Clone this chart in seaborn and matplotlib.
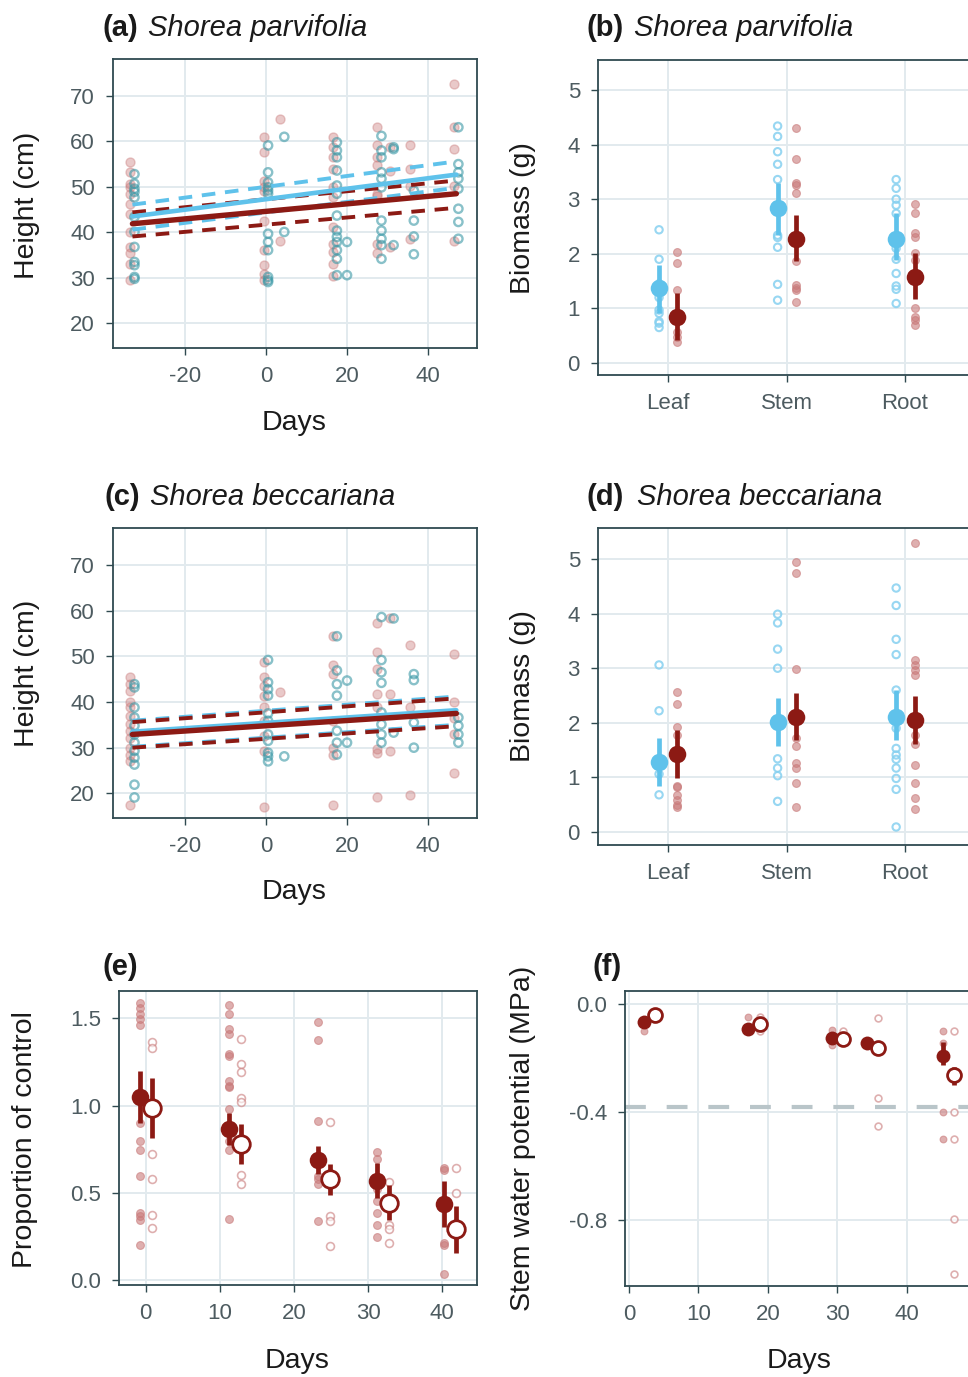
import matplotlib
matplotlib.use("Agg")
import matplotlib.pyplot as plt
import seaborn as sns
import pandas as pd

# colours
RED = "#8C1A14"
BLUE = "#5FC2EB"
RED_PT = "#c97a7a"
TEAL_PT = "#3a98a6"
BLUE_PT = "#86d0f0"
FRAME = "#2f4a50"
GRID = "#e2eaee"
TICK = "#4d5b60"

# ---- (a) Shorea parvifolia, height ----
a_days = [-33, 0, 4, 17, 19.5, 28, 31, 36, 47]
a_ctrl = [[52.8, 50.7, 49.6, 48.9, 47.7, 43.4, 40.1, 36.8, 33.5, 32.8, 30.2, 29.8],
          [59.1, 53.2, 51.0, 49.9, 49.2, 48.5, 39.7, 37.9, 36.1, 30.2, 29.5, 29.1],
          [61.0, 40.1],
          [59.8, 58.0, 56.5, 53.6, 50.3, 48.5, 43.7, 40.4, 39.0, 37.9, 36.1, 34.2, 30.6],
          [37.9, 30.6],
          [61.2, 58.0, 56.5, 53.2, 51.8, 49.9, 42.6, 40.4, 38.6, 37.2, 34.2],
          [58.7, 58.3, 37.2],
          [49.2, 42.6, 39.1, 35.2],
          [63.1, 55.0, 53.2, 51.8, 49.6, 45.2, 42.3, 38.6]]
a_drt = [[55.4, 53.2, 50.7, 49.9, 48.5, 46.3, 44.1, 40.1, 36.8, 35.4, 33.1, 29.5],
         [61.0, 57.6, 51.4, 49.9, 49.2, 42.6, 36.1, 32.8, 30.9, 29.5],
         [64.9, 38.2],
         [61.0, 58.7, 56.5, 53.9, 49.9, 47.7, 41.2, 37.5, 35.7, 33.1, 30.4],
         [],
         [63.2, 59.1, 56.5, 54.7, 48.5, 48.1, 37.5, 35.4],
         [58.7, 53.6, 36.8],
         [59.1, 53.9, 50.3, 38.6],
         [72.7, 63.1, 58.3, 50.3, 38.2]]
fit_x = [-33, 47]
a_ctrl_fit = [43.5, 52.7]
a_ctrl_up = [46.1, 55.6]
a_ctrl_lo = [40.6, 49.8]
a_drt_fit = [41.9, 48.5]
a_drt_up = [44.4, 51.4]
a_drt_lo = [39.1, 45.4]

# ---- (c) Shorea beccariana, height ----
c_ctrl = [[43.9, 43.2, 38.8, 36.6, 34.8, 32.9, 31.1, 29.3, 27.8, 26.3, 21.9, 19.1],
          [49.2, 44.3, 42.8, 41.4, 37.5, 35.9, 32.9, 31.5, 28.9, 28.1, 27.0],
          [28.1],
          [54.4, 46.9, 43.9, 41.4, 33.7, 31.1, 28.5],
          [44.7, 31.1],
          [58.6, 49.2, 46.5, 44.2, 37.7, 35.1, 32.9, 31.1],
          [58.3, 33.3],
          [46.1, 44.8, 35.5, 30.0],
          [36.6, 34.8, 32.9, 31.1]]
c_drt = [[45.4, 43.9, 42.5, 39.9, 38.8, 37.0, 35.1, 33.7, 32.2, 30.0, 28.5, 27.0, 17.5],
         [48.7, 45.4, 43.6, 41.4, 38.8, 35.9, 32.6, 29.3, 17.1],
         [42.1],
         [54.4, 48.0, 46.1, 35.9, 30.0, 28.5, 17.5],
         [],
         [57.3, 50.9, 47.2, 41.7, 38.8, 29.6, 28.9, 19.1],
         [58.3, 41.7, 29.3],
         [52.4, 38.8, 19.7],
         [50.5, 39.9, 36.6, 32.9, 24.5]]
c_ctrl_fit = [33.5, 38.2]
c_ctrl_up = [35.9, 41.2]
c_ctrl_lo = [30.2, 35.0]
c_drt_fit = [32.9, 37.5]
c_drt_up = [35.6, 40.8]
c_drt_lo = [30.0, 34.7]

# ---- (b)/(d) biomass ----
organs = ["Leaf", "Stem", "Root"]
b_ctrl_raw = [[2.44, 1.90, 1.45, 1.20, 0.97, 0.91, 0.76, 0.73, 0.65],
              [4.34, 4.15, 3.87, 3.64, 3.36, 2.34, 2.30, 2.12, 1.44, 1.15],
              [3.36, 3.20, 3.00, 2.89, 2.74, 2.10, 1.90, 1.64, 1.41, 1.35, 1.09]]
b_ctrl_mean = [1.37, 2.83, 2.28]
b_ctrl_lo = [0.92, 2.34, 1.89]
b_ctrl_hi = [1.79, 3.29, 2.74]
b_drt_raw = [[2.04, 1.83, 1.33, 0.57, 0.48, 0.39],
             [4.31, 3.73, 3.30, 3.26, 3.12, 1.87, 1.43, 1.38, 1.34, 1.12],
             [2.92, 2.74, 2.39, 2.30, 2.01, 1.89, 1.00, 0.85, 0.79, 0.70]]
b_drt_mean = [0.85, 2.28, 1.58]
b_drt_lo = [0.42, 1.86, 1.18]
b_drt_hi = [1.28, 2.71, 2.01]

d_ctrl_raw = [[3.06, 2.22, 1.06, 0.68],
              [3.99, 3.83, 3.35, 3.00, 1.34, 1.17, 1.03, 0.56],
              [4.47, 4.15, 3.53, 3.25, 2.60, 1.90, 1.53, 1.41, 1.33, 1.17, 0.98, 0.78, 0.09]]
d_ctrl_mean = [1.28, 2.02, 2.11]
d_ctrl_lo = [0.84, 1.58, 1.68]
d_ctrl_hi = [1.73, 2.45, 2.60]
d_drt_raw = [[2.56, 2.34, 1.92, 1.78, 0.85, 0.83, 0.68, 0.59, 0.49, 0.45],
             [4.95, 4.74, 2.99, 1.73, 1.58, 1.26, 1.17, 0.89, 0.45],
             [5.29, 3.15, 3.06, 2.97, 2.88, 1.78, 1.61, 1.23, 0.89, 0.62, 0.42]]
d_drt_mean = [1.43, 2.11, 2.05]
d_drt_lo = [0.98, 1.68, 1.62]
d_drt_hi = [1.86, 2.54, 2.50]

# ---- (e) proportion of control ----
e_days = [0, 12, 24, 32, 41]
e_drt_raw = [[1.59, 1.557, 1.527, 1.494, 1.462, 0.90, 0.795, 0.743, 0.594, 0.383, 0.364, 0.341, 0.201],
             [1.576, 1.527, 1.437, 1.408, 1.297, 1.287, 1.140, 1.115, 1.107, 0.981, 0.795, 0.747, 0.349],
             [1.479, 1.376, 0.910, 0.594, 0.579, 0.550, 0.339],
             [0.734, 0.695, 0.521, 0.454, 0.383, 0.316, 0.245],
             [0.642, 0.632, 0.214, 0.201, 0.034]]
e_drt_mean = [1.05, 0.868, 0.69, 0.569, 0.435]
e_drt_lo = [0.90, 0.776, 0.607, 0.47, 0.306]
e_drt_hi = [1.197, 0.96, 0.77, 0.67, 0.569]
e_rew_raw = [[1.366, 1.328, 0.724, 0.580, 0.370, 0.297],
             [1.379, 1.236, 1.194, 1.044, 1.019, 0.603, 0.550],
             [0.906, 0.364, 0.339, 0.197],
             [0.559, 0.316, 0.291, 0.211],
             [0.642, 0.498]]
e_rew_mean = [0.987, 0.782, 0.579, 0.444, 0.291]
e_rew_lo = [0.814, 0.667, 0.489, 0.341, 0.153]
e_rew_hi = [1.159, 0.897, 0.667, 0.546, 0.425]

# ---- (f) stem water potential ----
f_days = [3, 18, 30, 35, 46]
f_drt_raw = [[-0.06, -0.10], [-0.047, -0.09], [-0.096, -0.152, -0.12], [-0.14],
             [-0.099, -0.145, -0.399, -0.50]]
f_drt_mean = [-0.065, -0.094, -0.127, -0.143, -0.191]
f_drt_lo = [-0.09, -0.105, -0.15, -0.155, -0.226]
f_drt_hi = [-0.045, -0.08, -0.105, -0.13, -0.140]
f_rew_raw = [[-0.035], [-0.047, -0.10], [-0.099, -0.14], [-0.051, -0.349, -0.45],
             [-0.099, -0.399, -0.50, -0.797, -1.0]]
f_rew_mean = [-0.041, -0.075, -0.131, -0.164, -0.263]
f_rew_lo = [-0.05, -0.09, -0.14, -0.175, -0.300]
f_rew_hi = [-0.033, -0.065, -0.12, -0.15, -0.234]
threshold = -0.38

sns.set_theme(style="whitegrid")
plt.rcParams["font.family"] = ["Liberation Sans", "DejaVu Sans"]
plt.rcParams["axes.unicode_minus"] = False

W, H = 968, 1377
fig = plt.figure(figsize=(W / 100, H / 100), dpi=100)


def px_axes(l, t, r, b):
    return fig.add_axes([l / W, 1 - b / H, (r - l) / W, (b - t) / H])


def long_df(xs, groups):
    rows = []
    for x, vals in zip(xs, groups):
        for v in vals:
            rows.append((x, v))
    return pd.DataFrame(rows, columns=["x", "y"])


def style(ax):
    ax.grid(True, color=GRID, lw=1.4)
    for s in ax.spines.values():
        s.set_color(FRAME)
        s.set_linewidth(1.3)
    ax.tick_params(axis="both", length=5, width=1, color=FRAME, labelcolor=TICK,
                   labelsize=16, bottom=True, left=True)
    ax.tick_params(axis="y", pad=8)
    ax.tick_params(axis="x", pad=8)
    ax.set_xlabel("")
    ax.set_ylabel("")


def height_panel(ax, ctrl, drt, fits):
    dd = long_df([d - 0.5 for d in a_days], drt)
    dc = long_df([d + 0.5 for d in a_days], ctrl)
    sns.scatterplot(data=dd, x="x", y="y", ax=ax, color=RED_PT, alpha=0.4,
                    s=42, edgecolor=RED_PT, linewidth=1, zorder=2)
    sns.scatterplot(data=dc, x="x", y="y", ax=ax, facecolor="none",
                    edgecolor=TEAL_PT, alpha=0.6, s=36, linewidth=1.7, zorder=3)
    c_fit, c_up, c_lo, d_fit, d_up, d_lo = fits
    for yv, col, lw, ls in [(c_up, BLUE, 2.8, "--"), (c_lo, BLUE, 2.8, "--"),
                            (d_up, RED, 2.8, "--"), (d_lo, RED, 2.8, "--"),
                            (c_fit, BLUE, 3.3, "-"), (d_fit, RED, 3.9, "-")]:
        line = pd.DataFrame({"x": fit_x, "y": yv})
        sns.lineplot(data=line, x="x", y="y", ax=ax, color=col, lw=lw,
                     linestyle=ls, zorder=4)
    for l in ax.lines:
        if l.get_linestyle() == "--":
            l.set_dashes((3.5, 2.5))
    ax.set_xlim(-37.8, 52.1)
    ax.set_ylim(14.6, 78.1)
    ax.set_xticks([-20, 0, 20, 40])
    ax.set_yticks([20, 30, 40, 50, 60, 70])
    style(ax)


def biomass_panel(ax, c_raw, c_mean, c_lo, c_hi, d_raw, d_mean, d_lo, d_hi):
    pos = range(len(organs))
    pc = [p - 0.075 for p in pos]
    pd_ = [p + 0.08 for p in pos]
    sns.scatterplot(data=long_df(pc, c_raw), x="x", y="y", ax=ax, facecolor="none",
                    edgecolor=BLUE_PT, alpha=0.85, s=28, linewidth=1.5, zorder=2)
    sns.scatterplot(data=long_df(pd_, d_raw), x="x", y="y", ax=ax, color=RED_PT,
                    alpha=0.6, s=32, edgecolor=RED_PT, linewidth=0.8, zorder=2)
    ax.vlines(pc, c_lo, c_hi, color=BLUE, lw=3.4, zorder=3)
    ax.vlines(pd_, d_lo, d_hi, color=RED, lw=3.4, zorder=3)
    sns.scatterplot(x=pc, y=c_mean, ax=ax, color=BLUE, s=160, edgecolor=BLUE,
                    linewidth=0, zorder=4)
    sns.scatterplot(x=pd_, y=d_mean, ax=ax, color=RED, s=160, edgecolor=RED,
                    linewidth=0, zorder=4)
    ax.set_xlim(-0.59, 2.59)
    ax.set_xticks(list(pos))
    ax.set_xticklabels(organs)
    ax.set_yticks([0, 1, 2, 3, 4, 5])
    style(ax)


def time_panel(ax, days, dodge, dr, dm, dl, dh, rr, rm, rl, rh, msize, rsize):
    xd = [d - dodge for d in days]
    xr = [d + dodge for d in days]
    sns.scatterplot(data=long_df(xd, dr), x="x", y="y", ax=ax, color=RED_PT,
                    alpha=0.6, s=rsize, edgecolor=RED_PT, linewidth=0.8, zorder=2)
    sns.scatterplot(data=long_df(xr, rr), x="x", y="y", ax=ax, facecolor="white",
                    edgecolor=RED_PT, alpha=0.6, s=rsize, linewidth=1.2, zorder=2)
    ax.vlines(xd, dl, dh, color=RED, lw=3.4, zorder=3)
    ax.vlines(xr, rl, rh, color=RED, lw=3.4, zorder=3)
    sns.scatterplot(x=xd, y=dm, ax=ax, color=RED, s=msize, edgecolor=RED,
                    linewidth=0, zorder=4)
    sns.scatterplot(x=xr, y=rm, ax=ax, facecolor="white", edgecolor=RED,
                    s=msize, linewidth=2, zorder=4)


# (a)
ax_a = px_axes(113, 59, 477, 348)
height_panel(ax_a, a_ctrl, a_drt,
             (a_ctrl_fit, a_ctrl_up, a_ctrl_lo, a_drt_fit, a_drt_up, a_drt_lo))

# (c)
ax_c = px_axes(113, 528, 477, 818)
height_panel(ax_c, c_ctrl, c_drt,
             (c_ctrl_fit, c_ctrl_up, c_ctrl_lo, c_drt_fit, c_drt_up, c_drt_lo))

# (b)
ax_b = px_axes(598, 60, 975, 375)
biomass_panel(ax_b, b_ctrl_raw, b_ctrl_mean, b_ctrl_lo, b_ctrl_hi,
              b_drt_raw, b_drt_mean, b_drt_lo, b_drt_hi)
ax_b.set_ylim(-0.22, 5.55)

# (d)
ax_d = px_axes(598, 528, 975, 845)
biomass_panel(ax_d, d_ctrl_raw, d_ctrl_mean, d_ctrl_lo, d_ctrl_hi,
              d_drt_raw, d_drt_mean, d_drt_lo, d_drt_hi)
ax_d.set_ylim(-0.24, 5.57)

# (e)
ax_e = px_axes(119, 991, 477, 1285)
time_panel(ax_e, e_days, 0.8, e_drt_raw, e_drt_mean, e_drt_lo, e_drt_hi,
           e_rew_raw, e_rew_mean, e_rew_lo, e_rew_hi, 160, 32)
ax_e.set_xlim(-3.6, 44.7)
ax_e.set_ylim(-0.029, 1.657)
ax_e.set_xticks([0, 10, 20, 30, 40])
ax_e.set_yticks([0.0, 0.5, 1.0, 1.5])
ax_e.set_yticklabels(["0.0", "0.5", "1.0", "1.5"])
style(ax_e)

# (f)
ax_f = px_axes(625, 991, 977, 1286)
ax_f.axhline(threshold, color="#b9c5c9", lw=3, dashes=(5, 5), zorder=1)
time_panel(ax_f, f_days, 0.8, f_drt_raw, f_drt_mean, f_drt_lo, f_drt_hi,
           f_rew_raw, f_rew_mean, f_rew_lo, f_rew_hi, 100, 24)
ax_f.set_xlim(-0.58, 50.1)
ax_f.set_ylim(-1.044, 0.048)
ax_f.set_xticks([0, 10, 20, 30, 40])
ax_f.set_yticks([0.0, -0.4, -0.8])
ax_f.set_yticklabels(["0.0", "-0.4", "-0.8"])
style(ax_f)

# titles
TS = 21
titles = [(103, 36, "(a)", 148, "Shorea parvifolia"),
          (587, 36, "(b)", 634, "Shorea parvifolia"),
          (105, 505, "(c)", 150, "Shorea beccariana"),
          (587, 505, "(d)", 637, "Shorea beccariana"),
          (103, 975, "(e)", None, ""),
          (593, 975, "(f)", None, "")]
for x0, yb, tag, x1, name in titles:
    fig.text(x0 / W, 1 - yb / H, tag, fontsize=TS, fontweight="bold",
             color="#1a1a1a", va="baseline", ha="left")
    if x1 is not None:
        fig.text(x1 / W, 1 - yb / H, name, fontsize=TS, fontstyle="italic",
                 color="#1a1a1a", va="baseline", ha="left")

# axis labels
LS = 20.5
ylabels = [(27, 205, "Height (cm)"), (523, 218, "Biomass (g)"),
           (27, 673, "Height (cm)"), (523, 686, "Biomass (g)"),
           (25, 1140, "Proportion of control"),
           (523, 1138, "Stem water potential (MPa)")]
for x, y, t in ylabels:
    fig.text(x / W, 1 - y / H, t, fontsize=LS, rotation=90, ha="center",
             va="center", color="#1a1a1a")
xlabels = [(294, 423), (294, 892), (297, 1361), (799, 1361)]
for x, y in xlabels:
    fig.text(x / W, 1 - y / H, "Days", fontsize=LS, ha="center", va="center",
             color="#1a1a1a")

fig.savefig("out.png", dpi=100)
